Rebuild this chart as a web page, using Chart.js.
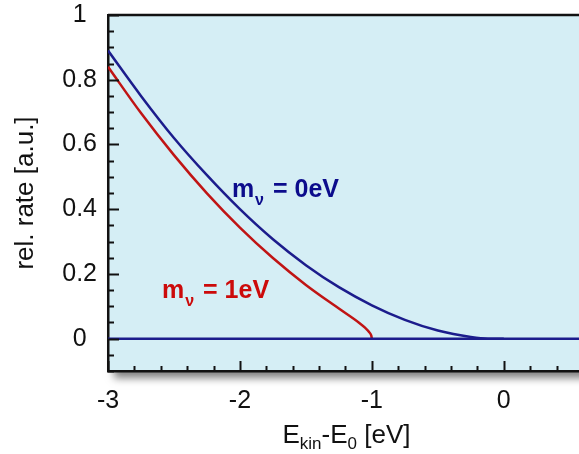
<!DOCTYPE html>
<html>
<head>
<meta charset="utf-8">
<script src="https://cdn.jsdelivr.net/npm/chart.js@4.4.0/dist/chart.umd.min.js"></script>
<style>
  html, body { margin: 0; padding: 0; background: #fff; }
</style>
</head>
<body>
<canvas id="chart" width="579" height="454"></canvas>
<script>
// values
const energyMass0 = [-3, -2.75, -2.5, -2.25, -2, -1.75, -1.5, -1.25, -1, -0.75, -0.5, -0.25, -0.12, 0];
const rateMass0 = [0.89, 0.75, 0.62, 0.505, 0.40, 0.307, 0.227, 0.159, 0.103, 0.058, 0.025, 0.005, 0, 0];

const energyMass1 = [-3, -2.75, -2.5, -2.25, -2, -1.75, -1.5, -1.25, -1.1, -1.05, -1.02, -1.005, -1];
const rateMass1 = [0.84, 0.697, 0.567, 0.449, 0.343, 0.249, 0.166, 0.093, 0.050, 0.033, 0.020, 0.010, 0];

const baselineEnergy = [-3, 0.57];
const baselineRate = [0, 0];

const xTickValues = [-3, -2, -1, 0];
const yTickValues = [0, 0.2, 0.4, 0.6, 0.8, 1];

const BLUE = '#1c1c8c';
const RED = '#c01414';
const FONT = "'Liberation Sans', Arial, sans-serif";

const toPoints = (xs, ys) => xs.map((x, i) => ({ x: x, y: ys[i] }));

const framePlugin = {
    id: 'frame',
    beforeDraw(chart) {
        const { ctx, chartArea: a } = chart;
        ctx.save();
        ctx.shadowColor = 'rgba(0,0,0,0.5)';
        ctx.shadowBlur = 8;
        ctx.shadowOffsetX = 6;
        ctx.shadowOffsetY = 7;
        ctx.fillStyle = '#d5eef5';
        ctx.fillRect(a.left, a.top, a.right - a.left + 20, a.bottom - a.top);
        ctx.restore();
    },
    afterDraw(chart) {
        const { ctx, chartArea: a } = chart;
        const xs = chart.scales.x, ys = chart.scales.y;
        ctx.save();
        ctx.strokeStyle = '#111';
        ctx.lineWidth = 2;

        // inward ticks on the bottom axis, minor every 0.2
        for (let i = 0; ; i++) {
            const v = xs.min + i * 0.2;
            if (v > xs.max + 1e-9) break;
            const px = Math.round(xs.getPixelForValue(v)) + 0.5;
            const major = Math.abs(v - Math.round(v)) < 1e-6;
            ctx.beginPath();
            ctx.moveTo(px, a.bottom);
            ctx.lineTo(px, a.bottom - (major ? 10 : 5));
            ctx.stroke();
        }
        // inward ticks on the left axis, minor every 0.05
        for (let i = 0; ; i++) {
            const v = ys.min + i * 0.05;
            if (v > ys.max + 1e-9) break;
            const py = Math.round(ys.getPixelForValue(v)) + 0.5;
            const major = Math.abs(v / 0.2 - Math.round(v / 0.2)) < 1e-6;
            ctx.beginPath();
            ctx.moveTo(a.left, py);
            ctx.lineTo(a.left + (major ? 11 : 6), py);
            ctx.stroke();
        }
        // top frame line
        ctx.lineWidth = 2.5;
        ctx.beginPath();
        ctx.moveTo(a.left, a.top);
        ctx.lineTo(chart.width, a.top);
        ctx.stroke();

        // curve labels
        const drawMassLabel = (ex, ry, value, color) => {
            let x = xs.getPixelForValue(ex);
            const y = ys.getPixelForValue(ry);
            ctx.fillStyle = color;
            ctx.textBaseline = 'alphabetic';
            ctx.textAlign = 'left';
            ctx.font = 'bold 25px ' + FONT;
            ctx.fillText('m', x, y);
            x += ctx.measureText('m').width + 1;
            ctx.font = 'bold 16px ' + FONT;
            ctx.fillText('ν', x, y + 8);
            x += ctx.measureText('ν').width + 2;
            ctx.font = 'bold 25px ' + FONT;
            ctx.fillText(' = ' + value, x, y);
        };
        drawMassLabel(-2.061, 0.438, '0eV', '#0c0c8c');
        drawMassLabel(-2.591, 0.125, '1eV', '#cc0a0a');

        // x axis title with subscripts
        const parts = [
            { t: 'E', size: 26, dy: 0 },
            { t: 'kin', size: 17, dy: 6 },
            { t: '-E', size: 26, dy: 0 },
            { t: '0', size: 17, dy: 6 },
            { t: ' [eV]', size: 26, dy: 0 }
        ];
        let total = 0;
        parts.forEach(p => {
            ctx.font = p.size + 'px ' + FONT;
            p.w = ctx.measureText(p.t).width;
            total += p.w;
        });
        let tx = (a.left + a.right) / 2 + 3 - total / 2;
        ctx.fillStyle = '#111';
        parts.forEach(p => {
            ctx.font = p.size + 'px ' + FONT;
            ctx.fillText(p.t, tx, 443 + p.dy);
            tx += p.w;
        });
        ctx.restore();
    }
};

new Chart(document.getElementById('chart'), {
    type: 'scatter',
    data: {
        datasets: [
            {
                label: 'baseline',
                data: toPoints(baselineEnergy, baselineRate),
                showLine: true,
                borderColor: BLUE,
                borderWidth: 2.5,
                pointRadius: 0
            },
            {
                label: 'm = 1 eV',
                data: toPoints(energyMass1, rateMass1),
                showLine: true,
                borderColor: RED,
                borderWidth: 2.5,
                pointRadius: 0,
                cubicInterpolationMode: 'monotone'
            },
            {
                label: 'm = 0 eV',
                data: toPoints(energyMass0, rateMass0),
                showLine: true,
                borderColor: BLUE,
                borderWidth: 2.5,
                pointRadius: 0,
                cubicInterpolationMode: 'monotone'
            }
        ]
    },
    options: {
        responsive: false,
        animation: false,
        devicePixelRatio: 1,
        layout: { padding: { top: 15, right: 0, bottom: 0, left: 0 } },
        plugins: {
            legend: { display: false },
            tooltip: { enabled: false }
        },
        scales: {
            x: {
                type: 'linear',
                min: -3,
                max: 0.57,
                afterBuildTicks: s => { s.ticks = xTickValues.map(v => ({ value: v })); },
                afterFit: s => { s.height = 83; s.paddingLeft = 0; s.paddingRight = 0; },
                grid: { display: false, drawTicks: false },
                border: { display: true, color: '#111', width: 2.5 },
                ticks: {
                    padding: 15,
                    color: '#111',
                    font: { size: 25, family: FONT },
                    callback: v => String(v)
                }
            },
            y: {
                type: 'linear',
                min: -0.1,
                max: 1,
                afterBuildTicks: s => { s.ticks = yTickValues.map(v => ({ value: v })); },
                afterFit: s => { s.width = 108; s.paddingTop = 0; s.paddingBottom = 0; },
                grid: { display: false, drawTicks: false },
                border: { display: true, color: '#111', width: 2.5 },
                title: {
                    display: true,
                    text: 'rel. rate [a.u.]',
                    color: '#111',
                    font: { size: 26, family: FONT },
                    padding: { top: 10, bottom: 0 }
                },
                ticks: {
                    padding: 11,
                    crossAlign: 'center',
                    color: '#111',
                    font: { size: 25, family: FONT },
                    callback: v => String(v)
                }
            }
        }
    },
    plugins: [framePlugin]
});
</script>
</body>
</html>
